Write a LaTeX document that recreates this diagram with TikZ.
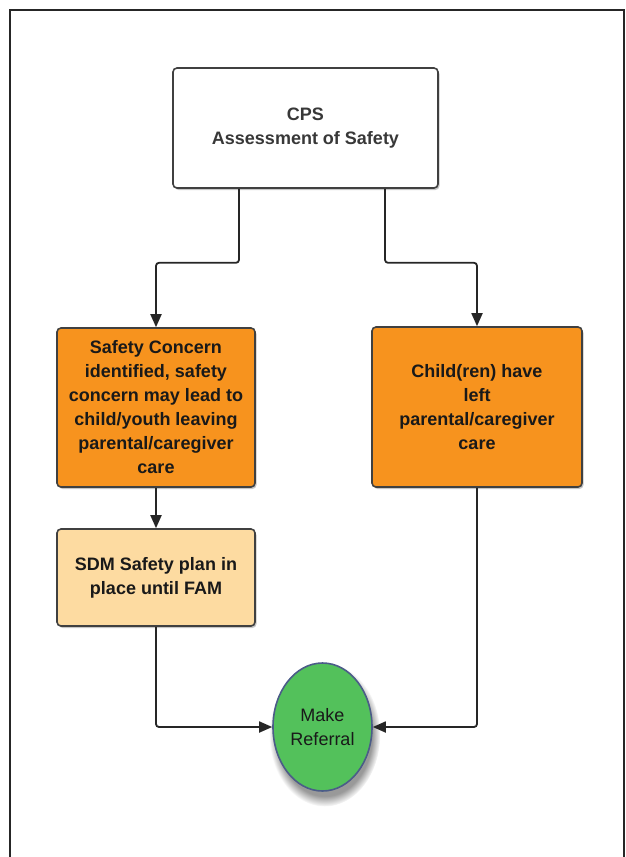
\documentclass[tikz,border=0pt]{standalone}
\usepackage{fontspec}
\setmainfont{Liberation Sans}
\usetikzlibrary{arrows.meta,positioning,shadows,shapes.geometric}
\definecolor{boxorange}{HTML}{F7931E}
\definecolor{paleorange}{HTML}{FDDBA1}
\definecolor{refgreen}{HTML}{53C15B}
\definecolor{rimblue}{HTML}{4B5C88}
\tikzset{
  box/.style={draw=black!75, line width=1.6pt, rounded corners=4pt, align=center,
    inner sep=0pt, text=black!90, font=\bfseries\fontsize{18}{24}\selectfont,
    drop shadow={opacity=0.45, shadow xshift=1.5pt, shadow yshift=-2pt}},
  link/.style={-{Triangle[length=13pt, width=11pt]}, line width=1.8pt, black!85, rounded corners=3pt},
  frame/.style={line width=1.8pt, black!85},
}

\begin{document}
\begin{tikzpicture}[x=1pt, y=1pt]
  \useasboundingbox (0,0) rectangle (626,-857);

  % Frame
  \draw[frame] (10,-857) -- (10,-10) -- (624,-10) -- (624,-857);

  % Boxes
  \node[box, fill=white, text=black!78, minimum width=265pt, minimum height=120pt]
    (cps) at (305.5,-128) {CPS\\Assessment of Safety};
  \node[box, fill=boxorange, minimum width=198pt, minimum height=159pt]
    (concern) at (156,-407.5) {Safety Concern\\identified, safety\\concern may lead to\\child/youth leaving\\parental/caregiver\\care};
  \node[box, fill=boxorange, minimum width=210pt, minimum height=160pt]
    (left) at (477,-407) {Child(ren) have\\left\\parental/caregiver\\care};
  \node[box, fill=paleorange, minimum width=198pt, minimum height=97pt]
    (sdm) at (156,-577.5) {SDM Safety plan in\\place until FAM};

  % Referral
  \node[ellipse, draw=rimblue, line width=1.6pt, fill=refgreen, minimum width=99pt,
    minimum height=128pt, inner sep=0pt, align=center, text=black!90,
    font=\fontsize{18}{24}\selectfont,
    circular drop shadow={shadow scale=1.12, shadow xshift=2pt, shadow yshift=-7pt, opacity=0.8}]
    (referral) at (322.5,-727) {Make\\Referral};

  % Connectors
  \draw[link] ([xshift=-66.5pt]cps.south) -- ++(0,-74) -| (concern.north);
  \draw[link] ([xshift=79.5pt]cps.south) -- ++(0,-74) -| (left.north);
  \draw[link] (concern) -- (sdm);
  \draw[link] (sdm.south) |- (referral.west);
  \draw[link] (left.south) |- (referral.east);
\end{tikzpicture}
\end{document}
